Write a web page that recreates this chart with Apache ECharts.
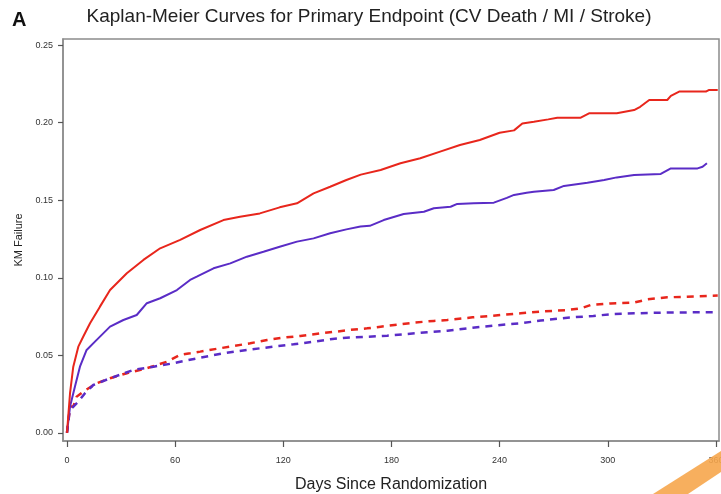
<!DOCTYPE html>
<html>
<head>
<meta charset="utf-8">
<script src="https://cdn.jsdelivr.net/npm/echarts@6/dist/echarts.min.js"></script>
<style>
html,body{margin:0;padding:0;background:#fff;}
#chart{width:721px;height:494px;}
</style>
</head>
<body>
<div id="chart"></div>
<script>
// ---- data ----
var xTickValues = [0, 60, 120, 180, 240, 300, 360];
var yTickValues = [0, 0.05, 0.10, 0.15, 0.20, 0.25];

var redSolidDays = [0, 1.7, 3.5, 6.3, 9, 12.8, 18.3, 23.9, 33.2, 42.4, 51.7, 62.8, 73.9, 86.8, 96, 107, 118, 127.6, 136.8, 146, 155, 163, 174, 185, 196, 207, 218, 229, 240, 248, 252.6, 259, 267, 272, 285, 289.6, 305, 314.6, 318, 323, 333, 335, 339.6, 354.4, 356, 361];
var redSolidValues = [0, 0.0256, 0.0427, 0.0556, 0.062, 0.0707, 0.0814, 0.0921, 0.1029, 0.1115, 0.119, 0.1244, 0.1308, 0.1372, 0.1394, 0.1415, 0.1454, 0.148, 0.1544, 0.1587, 0.163, 0.1665, 0.1695, 0.1738, 0.177, 0.1813, 0.1856, 0.1888, 0.1935, 0.195, 0.1995, 0.2006, 0.2021, 0.2032, 0.2032, 0.206, 0.206, 0.2081, 0.2102, 0.2146, 0.2146, 0.2172, 0.22, 0.22, 0.221, 0.221];

var blueSolidDays = [0, 1.7, 4.4, 7.2, 10.9, 16.5, 23.9, 31.3, 38.7, 44.3, 51.7, 61, 68.3, 72, 81.3, 90.6, 99.8, 109, 118, 127.6, 136.8, 146, 155, 162.8, 168, 175.7, 186.8, 198, 203.5, 212.8, 216.5, 225.7, 236.8, 244, 248, 255, 259, 270, 275.7, 288.7, 298, 305, 314.6, 329.4, 335, 349.8, 352.6, 355];
var blueSolidValues = [0, 0.017, 0.0298, 0.0427, 0.0535, 0.06, 0.0685, 0.0728, 0.076, 0.0836, 0.0868, 0.0921, 0.0986, 0.1007, 0.1061, 0.1093, 0.1136, 0.1168, 0.12, 0.1233, 0.1254, 0.1287, 0.1312, 0.133, 0.1335, 0.1372, 0.1411, 0.1426, 0.1448, 0.1458, 0.1476, 0.148, 0.1484, 0.1515, 0.1534, 0.1548, 0.1555, 0.1566, 0.1592, 0.1613, 0.163, 0.1647, 0.1662, 0.1669, 0.1705, 0.1705, 0.1716, 0.1738];

var redDashedDays = [0, 1.3, 2, 3.5, 5.4, 9, 16.5, 23.9, 33.2, 44.3, 55.4, 62.8, 68.3, 73.9, 85, 101.7, 111, 120, 129.4, 140.6, 148, 157, 166.5, 174, 185, 192.4, 203.5, 211, 225, 240.6, 251.7, 262.8, 277.6, 285, 290.6, 301.7, 314.6, 322, 333, 344, 361];
var redDashedValues = [0, 0.0127, 0.017, 0.017, 0.0234, 0.0266, 0.032, 0.0352, 0.0385, 0.0417, 0.0459, 0.0503, 0.0513, 0.0524, 0.0546, 0.0578, 0.0599, 0.0614, 0.0625, 0.0642, 0.0651, 0.0664, 0.0674, 0.0685, 0.07, 0.0711, 0.0722, 0.0728, 0.0745, 0.076, 0.0771, 0.0782, 0.0792, 0.0803, 0.0825, 0.0835, 0.084, 0.0861, 0.0874, 0.0878, 0.0885];

var blueDashedDays = [0, 1.3, 2.6, 3.5, 6.3, 10, 14.6, 23.9, 36.9, 48, 59, 62.8, 73.9, 86.8, 99.8, 114.6, 125.7, 136.8, 146, 155, 166.5, 177.6, 188.7, 199.8, 211, 225, 240.6, 251.7, 262.8, 277.6, 292, 301.7, 314.6, 329.4, 344, 361];
var blueDashedValues = [0, 0.0127, 0.0159, 0.017, 0.0202, 0.0256, 0.0309, 0.0352, 0.0406, 0.0427, 0.0449, 0.0459, 0.0485, 0.0513, 0.0535, 0.0556, 0.0571, 0.0588, 0.0604, 0.0614, 0.062, 0.0627, 0.0638, 0.0649, 0.0659, 0.0678, 0.0696, 0.0707, 0.0724, 0.0743, 0.0754, 0.0765, 0.0771, 0.0775, 0.0777, 0.0778];

function zip(xs, ys) { return xs.map(function (x, i) { return [x, ys[i]]; }); }

var RED = '#e8261c';
var BLUE = '#5a2cc6';
var FONT = '"Liberation Sans", Arial, sans-serif';

var chart = echarts.init(document.getElementById('chart'), null, { renderer: 'canvas' });
chart.setOption({
  animation: false,
  backgroundColor: '#ffffff',
  grid: {
    left: 63, right: 2, top: 39, bottom: 53,
    containLabel: false, outerBoundsMode: 'none',
    show: true, borderColor: '#8c8c8c', borderWidth: 1.5, backgroundColor: 'transparent'
  },
  xAxis: {
    type: 'value', min: -2.2, max: 361.7,
    name: 'Days Since Randomization', nameLocation: 'middle', nameGap: 36,
    nameTextStyle: { fontFamily: FONT, fontSize: 16, color: '#222' },
    axisLine: { show: true, onZero: false, lineStyle: { color: '#8c8c8c', width: 1.5 } },
    axisTick: { show: true, customValues: xTickValues, length: 6, lineStyle: { color: '#555', width: 1.2 } },
    axisLabel: { customValues: xTickValues, margin: 15, fontFamily: FONT, fontSize: 9, color: '#333' },
    splitLine: { show: false }
  },
  yAxis: {
    type: 'value', min: -0.0052, max: 0.2539,
    name: 'KM Failure', nameLocation: 'middle', nameGap: 39, nameRotate: 90,
    nameTextStyle: { fontFamily: FONT, fontSize: 11, color: '#222' },
    axisLine: { show: true, onZero: false, lineStyle: { color: '#8c8c8c', width: 1.5 } },
    axisTick: { show: true, customValues: yTickValues, length: 5, lineStyle: { color: '#555', width: 1.2 } },
    axisLabel: {
      customValues: yTickValues, margin: 10, fontFamily: FONT, fontSize: 9, color: '#333',
      formatter: function (v) { return v.toFixed(2); }
    },
    splitLine: { show: false }
  },
  series: [
    { name: 'Red dashed', type: 'line', data: zip(redDashedDays, redDashedValues), showSymbol: false,
      lineStyle: { color: RED, width: 2.5, type: [7, 6] }, z: 2 },
    { name: 'Blue dashed', type: 'line', data: zip(blueDashedDays, blueDashedValues), showSymbol: false,
      lineStyle: { color: BLUE, width: 2.5, type: [7, 6] }, z: 3 },
    { name: 'Blue solid', type: 'line', data: zip(blueSolidDays, blueSolidValues), showSymbol: false,
      lineStyle: { color: BLUE, width: 2 }, z: 4 },
    { name: 'Red solid', type: 'line', data: zip(redSolidDays, redSolidValues), showSymbol: false,
      lineStyle: { color: RED, width: 2 }, z: 5 }
  ],
  graphic: [
    { type: 'text', left: 12, top: 10, style: { text: 'A', fontFamily: FONT, fontSize: 20, fontWeight: 'bold', fill: '#111' } },
    { type: 'text', x: 369, y: 17, style: { text: 'Kaplan-Meier Curves for Primary Endpoint (CV Death / MI / Stroke)', fontFamily: FONT, fontSize: 19, fill: '#222', align: 'center', verticalAlign: 'middle' } },
    { type: 'polygon', z: 100, shape: { points: [[653, 494], [721, 451], [721, 472], [688, 494]] }, style: { fill: '#f6a64c', opacity: 0.9 } }
  ]
});
</script>
</body>
</html>
